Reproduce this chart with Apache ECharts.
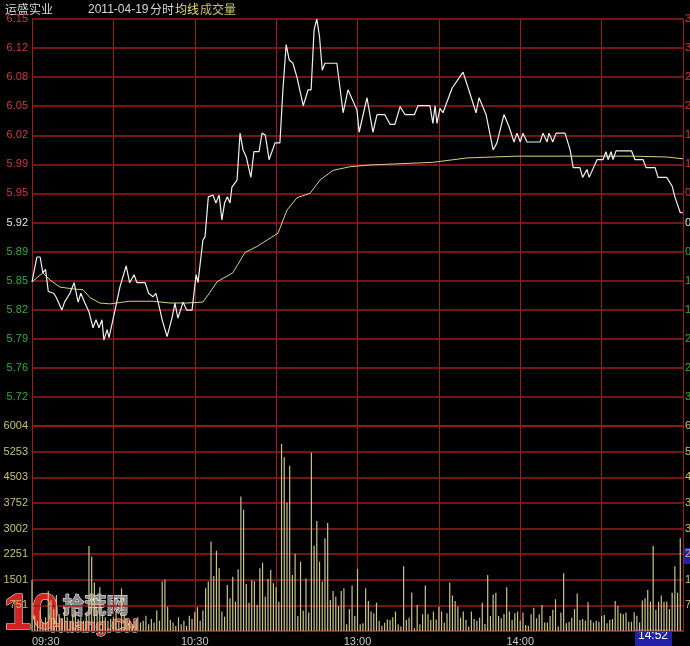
<!DOCTYPE html>
<html><head><meta charset="utf-8">
<script src="https://cdn.jsdelivr.net/npm/echarts@6/dist/echarts.min.js"></script>
<style>html,body{margin:0;padding:0;background:#000}#c{width:690px;height:646px}</style>
</head><body><div id="c"></div>
<script>
const prevClose = 5.92;
const priceTicks = ['5.69','5.72','5.76','5.79','5.82','5.85','5.89','5.92','5.95','5.99','6.02','6.05','6.08','6.12','6.15'];
const volTicks = ['0','751','1501','2251','3002','3752','4503','5253','6004'];
const timeLabels = {0:'09:30',60:'10:30',120:'13:00',180:'14:00'};
// [minute, price]
const priceLine = [[0,5.853],[1.8,5.881],[3,5.881],[4,5.863],[5,5.867],[6,5.842],[8,5.840],[9,5.835],[11,5.821],[12,5.830],[14,5.840],[15.5,5.852],[17,5.830],[18,5.840],[19.5,5.829],[21,5.819],[22.5,5.801],[23.6,5.810],[24.7,5.801],[25.8,5.810],[26.5,5.787],[27.7,5.799],[28.4,5.790],[30.6,5.821],[32.4,5.847],[34.7,5.871],[36,5.852],[37.6,5.861],[38.7,5.852],[41.7,5.852],[43,5.840],[44.6,5.836],[45.7,5.840],[46.5,5.830],[48,5.810],[49.8,5.791],[51.6,5.812],[52.7,5.829],[53.8,5.812],[55.7,5.830],[57,5.821],[59,5.821],[60.5,5.861],[61.2,5.852],[63,5.900],[63.8,5.904],[65,5.949],[66.7,5.951],[67.8,5.942],[69,5.951],[70,5.923],[71,5.942],[72,5.949],[73,5.942],[73.7,5.960],[75.6,5.968],[76.7,6.021],[77.8,6.002],[79,5.994],[80.7,5.971],[81.8,6.000],[83.7,6.000],[84.8,6.021],[86,6.019],[87.4,5.991],[89.6,6.010],[91.4,6.010],[92.5,6.070],[93.7,6.121],[94.8,6.104],[96.2,6.100],[97.7,6.084],[100,6.052],[101.8,6.070],[102.9,6.070],[104,6.138],[105,6.150],[106,6.130],[107,6.092],[108,6.100],[112.4,6.100],[114.7,6.044],[116.5,6.070],[119.8,6.047],[120.6,6.022],[123.5,6.061],[125.7,6.022],[127.2,6.042],[130,6.042],[132,6.031],[133.8,6.031],[135.7,6.051],[137.5,6.042],[141,6.042],[142.3,6.052],[146.7,6.052],[147.8,6.032],[148.6,6.052],[149.3,6.032],[150.4,6.049],[151.5,6.044],[154.9,6.072],[156.7,6.080],[158.9,6.090],[160.8,6.072],[163.7,6.044],[164.8,6.061],[167.4,6.042],[170,6.002],[171.4,6.010],[174,6.042],[175.9,6.028],[177.7,6.011],[178.8,6.021],[180,6.011],[181,6.021],[182.5,6.011],[187.3,6.011],[188.4,6.021],[189.9,6.011],[190.6,6.021],[192,6.011],[193.2,6.021],[196.5,6.021],[198.4,6.002],[199.5,5.982],[202,5.982],[203,5.971],[204.6,5.980],[205.4,5.971],[208.3,5.991],[210.5,5.991],[211.6,6.000],[212.4,5.991],[213.5,6.000],[214.2,5.991],[215.3,6.001],[221,6.001],[222.3,5.991],[225.3,5.991],[226.4,5.982],[229.7,5.982],[230.8,5.971],[234,5.971],[236,5.961],[237,5.949],[239,5.931],[240,5.931]];
const avgLine = [[0,5.853],[4,5.863],[6.6,5.855],[10.3,5.847],[15,5.845],[18.8,5.844],[21.4,5.835],[25,5.829],[28.8,5.828],[36,5.831],[44.6,5.831],[50.9,5.829],[57,5.829],[63,5.830],[65.6,5.841],[68.2,5.853],[74,5.863],[78.5,5.886],[83,5.893],[90.7,5.908],[94,5.934],[97.7,5.948],[102.5,5.953],[106.2,5.968],[111,5.979],[117.2,5.983],[124.6,5.985],[147.8,5.988],[160.4,5.993],[178.8,5.995],[197.3,5.995],[221.6,5.995],[234,5.994],[240,5.992]];
const volume = [1500,450,300,600,250,400,1170,900,640,1050,500,350,700,400,300,500,600,350,400,300,
500,2490,2180,1420,600,1280,500,400,300,350,400,600,300,1250,500,350,300,200,300,400,
250,300,450,200,350,250,600,300,1450,1500,710,320,250,150,400,200,300,150,450,350,
550,700,300,600,1250,1450,2620,1610,2350,1840,570,420,1350,960,1590,860,1810,3940,3550,1380,
830,1490,1460,760,1840,2000,1000,1520,1790,1400,1280,860,5480,5090,3760,4840,1640,2260,440,2030,
590,1540,540,5230,2500,3220,2030,1450,2720,3160,910,1170,1000,730,1170,1250,200,640,1330,440,
1810,200,225,1250,880,570,520,830,290,156,240,340,320,400,570,200,130,1900,320,390,
1130,80,760,200,490,1330,490,320,570,340,710,570,240,520,1420,1040,880,710,390,570,
320,130,570,350,300,390,830,205,1640,440,1070,1120,440,370,500,1280,570,320,520,570,
300,540,175,150,490,680,370,490,760,250,250,440,620,930,130,540,1690,225,270,390,
640,1100,320,350,300,840,320,250,300,270,440,470,225,320,350,880,730,520,490,540,
270,270,550,450,250,890,960,1200,860,2490,620,860,1040,860,860,640,1120,1900,1120,2720];

const pStep = 0.46/14, vStep = 6004/8;
const gridCol = '#9a1c1c';
const chart = echarts.init(document.getElementById('c'));
const rich = {cu:{color:'#d03a3a',fontSize:11,fontFamily:'Arial'},cz:{color:'#e8e8e8',fontSize:11,fontFamily:'Arial'},cd:{color:'#3aa83a',fontSize:11,fontFamily:'Arial'}};
chart.setOption({
  backgroundColor:'#000',
  animation:false,
  grid:[{left:32,right:7,top:19,height:407,outerBoundsMode:'none',containLabel:false},
        {left:32,right:7,top:426,height:205,outerBoundsMode:'none',containLabel:false}],
  xAxis:[
    {gridIndex:0,type:'value',min:0,max:240,interval:30,axisLabel:{show:false},axisTick:{show:false},
     axisLine:{show:false},splitLine:{lineStyle:{color:gridCol,width:1}}},
    {gridIndex:1,type:'value',min:0,max:240,interval:30,axisTick:{show:false},
     axisLine:{lineStyle:{color:gridCol}},splitLine:{lineStyle:{color:gridCol,width:1}},
     axisLabel:{color:'#c8c8c8',fontSize:11,fontFamily:'Arial',margin:5,
       formatter:v=>timeLabels[v]||'',alignMinLabel:'left'}}
  ],
  yAxis:[
    {gridIndex:0,type:'value',min:5.69,max:6.15,interval:pStep,position:'left',
     axisLine:{show:true,lineStyle:{color:gridCol}},axisTick:{show:false},
     splitLine:{lineStyle:{color:gridCol,width:1.5}},
     axisLabel:{fontSize:11,margin:4,
       formatter:v=>{const i=Math.round((v-5.69)/pStep);return i===0?'':'{c'+(i>7?'u':i===7?'z':'d')+'|'+priceTicks[i]+'}';},rich}},
    {gridIndex:0,type:'value',min:5.69,max:6.15,interval:pStep,position:'right',
     axisLine:{show:true,lineStyle:{color:gridCol}},axisTick:{show:false},splitLine:{show:false},
     axisLabel:{fontSize:11,margin:2,
       formatter:v=>{const i=Math.round((v-5.69)/pStep);if(i===0)return '';const pct=Math.abs((v-prevClose)/prevClose*100).toFixed(2)+'%';return '{c'+(i>7?'u':i===7?'z':'d')+'|'+pct+'}';},rich}},
    {gridIndex:1,type:'value',min:0,max:6004,interval:vStep,position:'left',
     axisLine:{show:true,lineStyle:{color:gridCol}},axisTick:{show:false},
     splitLine:{lineStyle:{color:gridCol,width:1.5}},
     axisLabel:{color:'#c8c070',fontSize:11,fontFamily:'Arial',margin:4,
       formatter:v=>{const i=Math.round(v/vStep);return i===0?'':volTicks[i];}}},
    {gridIndex:1,type:'value',min:0,max:6004,interval:vStep,position:'right',
     axisLine:{show:true,lineStyle:{color:gridCol}},axisTick:{show:false},splitLine:{show:false},
     axisLabel:{color:'#c8c070',fontSize:11,fontFamily:'Arial',margin:2,
       formatter:v=>{const i=Math.round(v/vStep);return i===0?'':volTicks[i];}}}
  ],
  series:[
    {type:'line',xAxisIndex:0,yAxisIndex:0,data:avgLine,symbol:'none',lineStyle:{color:'#d8d080',width:1}},
    {type:'line',xAxisIndex:0,yAxisIndex:0,data:priceLine,symbol:'none',lineStyle:{color:'#f0f0f0',width:1.2}},
    {type:'bar',xAxisIndex:1,yAxisIndex:2,data:volume.map((v,i)=>[i,v]),barWidth:1.2,
     itemStyle:{color:'#c8c488'}}
  ],
  graphic:[
    {type:'text',left:5,top:3,style:{text:'运盛实业',fill:'#d8d8d8',font:'12px "Noto Sans CJK SC"'}},
    {type:'text',left:88,top:4,style:{text:'2011-04-19',fill:'#d8d8d8',font:'12px Arial'}},
    {type:'text',left:150,top:3,style:{text:'分时',fill:'#d8d8d8',font:'12px "Noto Sans CJK SC"'}},
    {type:'text',left:175,top:3,style:{text:'均线',fill:'#e8e070',font:'12px "Noto Sans CJK SC"'}},
    {type:'text',left:200,top:3,style:{text:'成交量',fill:'#c8c070',font:'12px "Noto Sans CJK SC"'}},
    {type:'rect',shape:{x:635,y:629,width:37,height:17},style:{fill:'#2020a8'}},
    {type:'text',left:638,top:630,style:{text:'14:52',fill:'#ffffff',font:'12px Arial'}},
    {type:'rect',shape:{x:684,y:548,width:6,height:16},style:{fill:'#2020a8'}},
    {type:'text',left:3,top:590,style:{text:'10',fill:'#d42020',font:'bold 50px Arial',stroke:'#fff',lineWidth:1}},
    {type:'text',left:62,top:593,style:{text:'拾荒网',fill:'#888',font:'bold 22px "Noto Sans CJK SC"',stroke:'#fff',lineWidth:1}},
    {type:'text',left:50,top:618,style:{text:'Huang.CN',fill:'#d42020',font:'bold 18px Arial',stroke:'#fff',lineWidth:1}}
  ]
});
</script></body></html>
